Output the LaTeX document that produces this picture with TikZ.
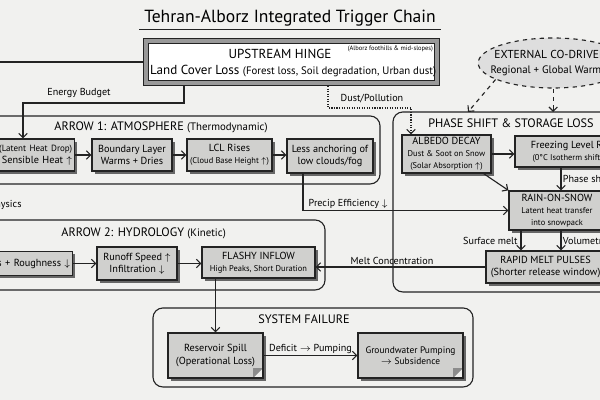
\documentclass[tikz,border=0pt]{standalone}
\usepackage{fontspec}
\setmainfont{PT Sans}
\usetikzlibrary{positioning,arrows.meta,shadows,shapes.geometric}

\definecolor{paper}{RGB}{241,241,239}
\definecolor{ink}{RGB}{35,35,35}
\definecolor{boxfill}{RGB}{208,208,206}
\newcommand{\smalltxt}{\fontsize{6}{7.2}\selectfont}

\tikzset{
  box/.style={draw=ink, line width=0.9pt, fill=boxfill, align=center, inner sep=1.5pt,
    font=\fontsize{7.3}{8.7}\selectfont,
    drop shadow={shadow xshift=1.8pt, shadow yshift=-1.8pt, fill=black!65, opacity=0.9}},
  fold/.style={path picture={
    \fill[paper] (path picture bounding box.south east) -- ++(-7pt,0) -- ++(7pt,7pt) -- cycle;
    \fill[black!45] ([xshift=-7pt]path picture bounding box.south east) -- ++(7pt,7pt) -- ++(-7pt,0) -- cycle;}},
  cluster/.style={draw=ink, line width=0.8pt, rounded corners=7pt},
  ctitle/.style={font=\fontsize{8.7}{10}\selectfont},
  arr/.style={draw=ink, thick, -{Straight Barb[length=3pt,width=6pt]}},
  lab/.style={font=\fontsize{7.2}{8}\selectfont, inner sep=1pt}
}

\begin{document}
\begin{tikzpicture}
      \fill[paper] (0,0) rectangle (15,10);
      \useasboundingbox (0,0) rectangle (15,10);

      \node[font=\fontsize{12.5}{14}\selectfont] (title) at (7.25,9.55) {Tehran-Alborz Integrated Trigger Chain};
      \draw[ink, thick] ([yshift=1pt]title.south west) -- ([yshift=1pt]title.south east);

      \node[draw=ink, line width=0.6pt, double=black!40, double distance=3.2pt, fill=white, outer sep=2.2pt,
            minimum width=7.275cm, minimum height=1.05cm] (hinge) at (7.29,8.45) {};
      \node[font=\fontsize{9.3}{10}\selectfont] (hingehead) at (7.0,8.65) {UPSTREAM HINGE};
      \node[font=\fontsize{9.3}{10}\selectfont] (hingebody) at (7.33,8.225) {Land Cover Loss {\fontsize{7.7}{9}\selectfont (Forest loss, Soil degradation, Urban dust)}};
      \node[font=\fontsize{4.6}{5}\selectfont] (hingenote) at (9.76,8.775) {(Alborz foothills \& mid-slopes)};

      \node[ellipse, draw=ink, thick, dashed, fill=black!13, minimum width=3.75cm, minimum height=1.25cm] (codrv) at (13.83,8.425) {};
      \node[font=\fontsize{8.2}{10.5}\selectfont, align=center] (codrvtext) at (codrv.center) {EXTERNAL CO-DRIVERS\\{\fontsize{7.7}{9}\selectfont Regional + Global Warming}};

      \draw[cluster] (-0.3,5.4) rectangle (9.5,7.1);
      \node[ctitle] (atmtitle) at (4.025,6.825) {ARROW 1: ATMOSPHERE {\fontsize{7.7}{9}\selectfont (Thermodynamic)}};
      \draw[cluster] (-0.3,2.75) rectangle (8.125,4.5);
      \node[ctitle] (hydtitle) at (3.59,4.175) {ARROW 2: HYDROLOGY {\fontsize{7.7}{9}\selectfont (Kinetic)}};
      \draw[cluster] (9.825,2.7) rectangle (15.4,7.2);
      \node[ctitle] (phtitle) at (12.775,6.925) {PHASE SHIFT \& STORAGE LOSS};
      \draw[cluster] (3.825,0.325) rectangle (11.825,2.3);
      \node[ctitle] (systitle) at (7.6,2.025) {SYSTEM FAILURE};

      \node[box, anchor=east, text width=2.6cm, align=right, minimum height=0.8cm] (sens) at (1.875,6.125) {{\fontsize{6.4}{7.6}\selectfont (Latent Heat Drop)}\\Sensible Heat $\uparrow$};
      \node[box, minimum width=2cm, minimum height=0.8cm] (bl) at (3.3,6.125) {Boundary Layer\\Warms + Dries};
      \node[box, minimum width=2.125cm, minimum height=0.8cm] (lcl) at (5.7375,6.125) {LCL Rises\\{\smalltxt (Cloud Base Height $\uparrow$)}};
      \node[box, minimum width=2.15cm, minimum height=0.85cm] (anch) at (8.25,6.1) {Less anchoring of\\low clouds/fog};

      \node[box, anchor=east, text width=2.6cm, align=right, minimum height=0.6cm] (rough) at (1.825,3.4125) {s + Roughness $\downarrow$};
      \node[box, minimum width=2cm, minimum height=0.825cm] (runoff) at (3.425,3.4125) {Runoff Speed $\uparrow$\\Infiltration $\downarrow$};
      \node[box, minimum width=2.825cm, minimum height=0.775cm] (flashy) at (6.4625,3.4375) {FLASHY INFLOW\\{\smalltxt High Peaks, Short Duration}};

      \node[box, minimum width=2.225cm, minimum height=0.95cm] (albedo) at (11.1625,6.15) {ALBEDO DECAY\\{\smalltxt Dust \& Soot on Snow}\\{\smalltxt (Solar Absorption $\uparrow$)}};
      \node[box, minimum width=3cm, minimum height=0.775cm] (freeze) at (14.375,6.2125) {Freezing Level Rises\\{\smalltxt (0°C Isotherm shifts up)}};
      \node[box, minimum width=2.4cm, minimum height=0.975cm] (rain) at (13.925,4.7375) {RAIN-ON-SNOW\\{\smalltxt Latent heat transfer}\\{\smalltxt into snowpack}};
      \node[box, minimum width=2.975cm, minimum height=0.8cm] (rapid) at (13.64,3.325) {RAPID MELT PULSES\\(Shorter release window)};

      \node[box, fold, minimum width=2.375cm, minimum height=1.125cm] (spill) at (5.3875,1.1125) {Reservoir Spill\\(Operational Loss)};
      \node[box, fold, minimum width=2.625cm, minimum height=1.125cm, font=\fontsize{6.7}{8}\selectfont] (gw) at (10.2625,1.1125) {Groundwater Pumping\\$\rightarrow$ Subsidence};

      \coordinate (edgew) at (0,8.45);
      \coordinate (ebturn) at (0.575,7.425);
      \coordinate (dustturn) at (10.275,7.3);
      \coordinate (phtop1) at (11.7,7.2);
      \coordinate (phtop2) at (13.83,7.2);

      \draw[ink, thick] (hinge.west) -- (edgew);
      \draw[arr] (4.6,0 |- hinge.south) |- (ebturn) -- (ebturn |- sens.north);
      \node[lab] (eblab) at (1.975,7.675) {Energy Budget};
      \draw[arr, densely dotted] (8.2,0 |- hinge.south) |- (dustturn) -- (dustturn |- albedo.north);
      \node[lab] (dustlab) at (9.3,7.525) {Dust/Pollution};
      \draw[arr, dashed] (codrv.196) -- (phtop1);
      \draw[arr, dashed] (codrv.south) -- (phtop2);

      \draw[arr] (sens.east) -- (bl.west);
      \draw[arr] (bl.east) -- (lcl.west);
      \draw[arr] (lcl.east) -- (lcl.east -| anch.west);
      \node[lab, anchor=east] (physlab) at (0.58,4.875) {Physics};
      \draw[arr] (7.575,0 |- anch.south) |- (rain.west) node[lab, pos=0.61, above] (pelab) {Precip Efficiency $\downarrow$};

      \draw[arr] (rough.east) -- (runoff.west);
      \draw[arr] (runoff.east) -- (runoff.east -| flashy.west);

      \draw[arr] (albedo.east) -- (albedo.east -| freeze.west);
      \draw[arr] (14.025,0 |- freeze.south) -- (14.025,0 |- rain.north) node[lab, midway, right] (phlab) {Phase shift};
      \draw[arr] ([xshift=-2mm]albedo.south east) -- (rain.north west);
      \draw[arr] (13.025,0 |- rain.south) -- (13.025,0 |- rapid.north) node[lab, midway, left, xshift=-1pt] (smlab) {Surface melt};
      \draw[arr] (14.025,0 |- rain.south) -- (14.025,0 |- rapid.north) node[lab, midway, right] (vollab) {Volumetric};
      \draw[arr] (rapid.west) -- (rapid.west -| flashy.east) node[lab, pos=0.55, above] (mclab) {Melt Concentration};

      \draw[arr] (spill.north |- flashy.south) -- (spill.north);
      \draw[arr] (spill.east) -- (gw.west) node[lab, midway, above] (deflab) {Deficit $\rightarrow$ Pumping};
    \end{tikzpicture}
\end{document}
